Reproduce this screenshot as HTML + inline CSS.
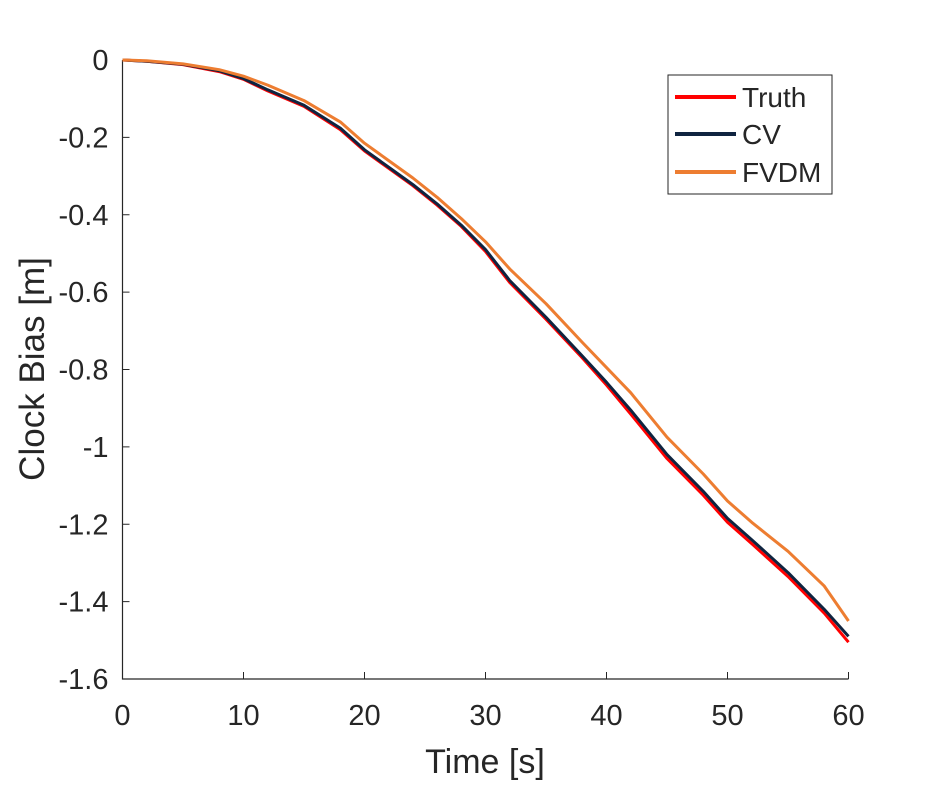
<!DOCTYPE html>
<html><head><meta charset="utf-8"><style>
body{margin:0;background:#fff;width:938px;height:781px;overflow:hidden}
svg text{font-family:"Liberation Sans",Arial,sans-serif;fill:#262626}
</style></head><body>
<svg id="chart" width="938" height="781"></svg>
<script>
const times=[0,2,5,8,10,12,15,18,20,22,24,26,28,30,32,35,38,40,42,45,48,50,52,55,58,60];
const truth=[0,-0.003,-0.012,-0.03,-0.05,-0.08,-0.12,-0.18,-0.235,-0.28,-0.325,-0.375,-0.43,-0.495,-0.575,-0.67,-0.77,-0.84,-0.915,-1.03,-1.125,-1.195,-1.25,-1.335,-1.43,-1.505];
const cv=[0,-0.003,-0.011,-0.028,-0.048,-0.077,-0.117,-0.176,-0.232,-0.277,-0.322,-0.372,-0.427,-0.49,-0.57,-0.665,-0.765,-0.833,-0.905,-1.02,-1.115,-1.185,-1.24,-1.325,-1.42,-1.49];
const fvdm=[0,-0.002,-0.01,-0.025,-0.042,-0.065,-0.105,-0.16,-0.215,-0.26,-0.305,-0.355,-0.41,-0.47,-0.54,-0.63,-0.73,-0.795,-0.86,-0.975,-1.07,-1.14,-1.195,-1.27,-1.36,-1.45];
const xTicks=[0,10,20,30,40,50,60];
const yTicks=[0,-0.2,-0.4,-0.6,-0.8,-1,-1.2,-1.4,-1.6];
const yTickLabels=["0","-0.2","-0.4","-0.6","-0.8","-1","-1.2","-1.4","-1.6"];
const L=122.5,R=848.5,T=60,B=679;
const xs=v=>L+(v-0)/60*(R-L);
const ys=v=>T+(0-v)/1.6*(B-T);
const svg=document.getElementById('chart');
const NS='http://www.w3.org/2000/svg';
function mk(tag,attrs,parent){const e=document.createElementNS(NS,tag);for(const k in attrs)e.setAttribute(k,attrs[k]);(parent||svg).appendChild(e);return e;}
let ax=mk('path',{d:`M${L},${T} V${B} H${R}`,stroke:'#262626','stroke-width':1.2,fill:'none'});


xTicks.forEach(t=>{
  const tk=mk('line',{x1:xs(t),x2:xs(t),y1:B,y2:B-7,stroke:'#262626'});
  
  
  const tx=mk('text',{x:xs(t),y:B+46,'text-anchor':'middle','font-size':'29'});
  tx.textContent=t;
  
  
});
yTicks.forEach((t,i)=>{
  const tk=mk('line',{x1:L,x2:L+7,y1:ys(t),y2:ys(t),stroke:'#262626'});
  
  
  const tx=mk('text',{x:L-14,y:ys(t)+10,'text-anchor':'end','font-size':'29'});
  tx.textContent=yTickLabels[i];
  
  
});
const xt=mk('text',{x:485,y:773,'text-anchor':'middle','font-size':'34'});
xt.textContent='Time [s]';


const yt=mk('text',{x:44,y:369,'text-anchor':'middle','font-size':'35',transform:'rotate(-90 44 369)'});
yt.textContent='Clock Bias [m]';


function line(vals,color,name){
  const d=vals.map((v,i)=>(i?'L':'M')+xs(times[i]).toFixed(1)+','+ys(v).toFixed(1)).join(' ');
  const p=mk('path',{d:d,stroke:color,'stroke-width':3,fill:'none','stroke-linejoin':'round'});
  
  
}
line(truth,'#ff0000','truth-line');
line(cv,'#0f2440','cv-line');
line(fvdm,'#ed7d31','fvdm-line');
const lg=mk('g',{});


mk('rect',{x:668,y:75,width:164,height:119,fill:'#fff',stroke:'#262626','stroke-width':1},lg);
[['Truth','#ff0000',97],['CV','#0f2440',134],['FVDM','#ed7d31',172]].forEach(([n,c,y])=>{
  const e=mk('g',{},lg);
  
  
  mk('line',{x1:675,x2:736,y1:y,y2:y,stroke:c,'stroke-width':4},e);
  const t=mk('text',{x:742,y:y+10,'font-size':'28',fill:'#000'},e);
  t.textContent=n;
});
</script>
</body></html>
